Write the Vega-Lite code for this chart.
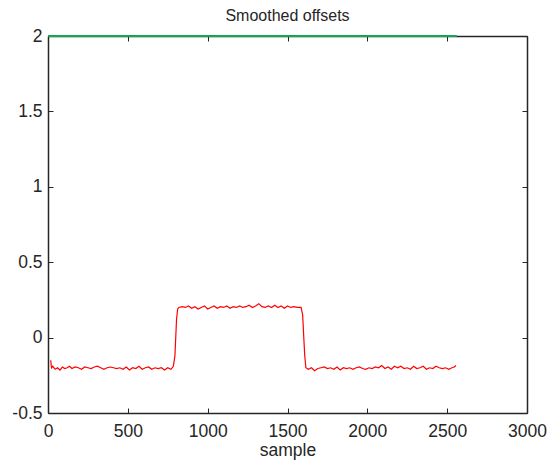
{
  "$schema": "https://vega.github.io/schema/vega-lite/v6.json",
  "width": 479,
  "height": 377,
  "autosize": {"type": "none"},
  "padding": {"left": 48, "top": 36, "right": 28, "bottom": 51},
  "background": "white",
  "title": {"text": "Smoothed offsets", "fontSize": 16, "font": "Liberation Sans", "fontWeight": "normal", "color": "#262626", "offset": 3},
  "config": {
    "view": {"stroke": null},
    "axis": {"grid": false, "domainColor": "#262626", "tickColor": "#262626", "labelColor": "#262626", "titleColor": "#262626", "labelFont": "Liberation Sans", "titleFont": "Liberation Sans", "labelFontSize": 17.5, "titleFontSize": 17.5, "titleFontWeight": "normal", "tickSize": -5, "domainWidth": 1.5, "tickWidth": 1, "labelExpr": "datum.value + ''"}
  },
  "datasets": {
    "red": [
      {"sample": 17, "offset": -0.15}, {"sample": 22, "offset": -0.2}, {"sample": 30, "offset": -0.19}, {"sample": 45, "offset": -0.21}, {"sample": 60, "offset": -0.2}, {"sample": 75, "offset": -0.215}, {"sample": 90, "offset": -0.195}, {"sample": 105, "offset": -0.205}, {"sample": 120, "offset": -0.2}, {"sample": 135, "offset": -0.19}, {"sample": 150, "offset": -0.205}, {"sample": 170, "offset": -0.195}, {"sample": 190, "offset": -0.2}, {"sample": 210, "offset": -0.21}, {"sample": 230, "offset": -0.195}, {"sample": 250, "offset": -0.2}, {"sample": 270, "offset": -0.205}, {"sample": 290, "offset": -0.195}, {"sample": 310, "offset": -0.19}, {"sample": 330, "offset": -0.2}, {"sample": 350, "offset": -0.21}, {"sample": 370, "offset": -0.2}, {"sample": 390, "offset": -0.195}, {"sample": 410, "offset": -0.2}, {"sample": 430, "offset": -0.205}, {"sample": 450, "offset": -0.2}, {"sample": 470, "offset": -0.21}, {"sample": 490, "offset": -0.195}, {"sample": 510, "offset": -0.215}, {"sample": 530, "offset": -0.2}, {"sample": 550, "offset": -0.205}, {"sample": 570, "offset": -0.19}, {"sample": 590, "offset": -0.21}, {"sample": 610, "offset": -0.2}, {"sample": 630, "offset": -0.195}, {"sample": 650, "offset": -0.21}, {"sample": 670, "offset": -0.2}, {"sample": 690, "offset": -0.205}, {"sample": 710, "offset": -0.2}, {"sample": 730, "offset": -0.215}, {"sample": 750, "offset": -0.2}, {"sample": 770, "offset": -0.21}, {"sample": 785, "offset": -0.19},
      {"sample": 795, "offset": -0.12}, {"sample": 800, "offset": 0.0}, {"sample": 805, "offset": 0.12}, {"sample": 812, "offset": 0.19}, {"sample": 820, "offset": 0.2}, {"sample": 840, "offset": 0.205}, {"sample": 860, "offset": 0.2}, {"sample": 880, "offset": 0.21}, {"sample": 900, "offset": 0.195}, {"sample": 920, "offset": 0.205}, {"sample": 940, "offset": 0.19}, {"sample": 960, "offset": 0.2}, {"sample": 980, "offset": 0.21}, {"sample": 1000, "offset": 0.19}, {"sample": 1020, "offset": 0.2}, {"sample": 1040, "offset": 0.21}, {"sample": 1060, "offset": 0.195}, {"sample": 1080, "offset": 0.205}, {"sample": 1100, "offset": 0.2}, {"sample": 1120, "offset": 0.21}, {"sample": 1140, "offset": 0.195}, {"sample": 1160, "offset": 0.205}, {"sample": 1180, "offset": 0.2}, {"sample": 1200, "offset": 0.21}, {"sample": 1220, "offset": 0.2}, {"sample": 1240, "offset": 0.205}, {"sample": 1260, "offset": 0.215}, {"sample": 1280, "offset": 0.2}, {"sample": 1300, "offset": 0.21}, {"sample": 1320, "offset": 0.225}, {"sample": 1340, "offset": 0.205}, {"sample": 1360, "offset": 0.2}, {"sample": 1380, "offset": 0.21}, {"sample": 1400, "offset": 0.2}, {"sample": 1420, "offset": 0.215}, {"sample": 1440, "offset": 0.2}, {"sample": 1460, "offset": 0.21}, {"sample": 1480, "offset": 0.195}, {"sample": 1500, "offset": 0.21}, {"sample": 1520, "offset": 0.2}, {"sample": 1540, "offset": 0.205}, {"sample": 1560, "offset": 0.2}, {"sample": 1585, "offset": 0.2},
      {"sample": 1595, "offset": 0.15}, {"sample": 1602, "offset": 0.0}, {"sample": 1608, "offset": -0.12}, {"sample": 1615, "offset": -0.2}, {"sample": 1630, "offset": -0.21}, {"sample": 1650, "offset": -0.2}, {"sample": 1670, "offset": -0.22}, {"sample": 1690, "offset": -0.205}, {"sample": 1710, "offset": -0.2}, {"sample": 1730, "offset": -0.195}, {"sample": 1750, "offset": -0.205}, {"sample": 1770, "offset": -0.2}, {"sample": 1790, "offset": -0.21}, {"sample": 1810, "offset": -0.195}, {"sample": 1830, "offset": -0.215}, {"sample": 1850, "offset": -0.2}, {"sample": 1870, "offset": -0.205}, {"sample": 1890, "offset": -0.2}, {"sample": 1910, "offset": -0.21}, {"sample": 1930, "offset": -0.2}, {"sample": 1950, "offset": -0.195}, {"sample": 1970, "offset": -0.205}, {"sample": 1990, "offset": -0.21}, {"sample": 2010, "offset": -0.2}, {"sample": 2030, "offset": -0.205}, {"sample": 2050, "offset": -0.195}, {"sample": 2070, "offset": -0.2}, {"sample": 2090, "offset": -0.185}, {"sample": 2110, "offset": -0.205}, {"sample": 2130, "offset": -0.195}, {"sample": 2150, "offset": -0.21}, {"sample": 2170, "offset": -0.19}, {"sample": 2190, "offset": -0.2}, {"sample": 2210, "offset": -0.19}, {"sample": 2230, "offset": -0.205}, {"sample": 2250, "offset": -0.2}, {"sample": 2270, "offset": -0.21}, {"sample": 2290, "offset": -0.19}, {"sample": 2310, "offset": -0.205}, {"sample": 2330, "offset": -0.2}, {"sample": 2350, "offset": -0.19}, {"sample": 2370, "offset": -0.21}, {"sample": 2390, "offset": -0.2}, {"sample": 2410, "offset": -0.205}, {"sample": 2430, "offset": -0.19}, {"sample": 2450, "offset": -0.2}, {"sample": 2470, "offset": -0.205}, {"sample": 2490, "offset": -0.2}, {"sample": 2510, "offset": -0.21}, {"sample": 2530, "offset": -0.2}, {"sample": 2545, "offset": -0.195}, {"sample": 2555, "offset": -0.185}
    ],
    "green": [
      {"sample": 0, "offset": 2}, {"sample": 2560, "offset": 2}
    ]
  },
  "layer": [
    {
      "data": {"name": "red"},
      "mark": {"type": "line", "color": "#ff0000", "strokeWidth": 1.2, "clip": false},
      "encoding": {
        "x": {"field": "sample", "type": "quantitative", "scale": {"domain": [0, 3000], "nice": false, "zero": false}, "axis": {"orient": "bottom", "title": "sample", "values": [0, 500, 1000, 1500, 2000, 2500, 3000], "labelPadding": 14, "titlePadding": 2, "labelFlush": false}},
        "y": {"field": "offset", "type": "quantitative", "scale": {"domain": [-0.5, 2], "nice": false, "zero": false}, "axis": {"orient": "left", "title": null, "values": [-0.5, 0, 0.5, 1, 1.5, 2], "labelPadding": 11, "labelFlush": false}}
      }
    },
    {
      "data": {"name": "green"},
      "mark": {"type": "line", "color": "#12a650", "strokeWidth": 2, "clip": false},
      "encoding": {
        "x": {"field": "sample", "type": "quantitative", "scale": {"domain": [0, 3000], "nice": false, "zero": false}, "axis": {"orient": "top", "title": null, "labels": false, "values": [0, 500, 1000, 1500, 2000, 2500, 3000]}},
        "y": {"field": "offset", "type": "quantitative", "scale": {"domain": [-0.5, 2], "nice": false, "zero": false}, "axis": {"orient": "right", "title": null, "labels": false, "values": [-0.5, 0, 0.5, 1, 1.5, 2]}}
      }
    }
  ],
  "resolve": {"axis": {"x": "independent", "y": "independent"}}
}
